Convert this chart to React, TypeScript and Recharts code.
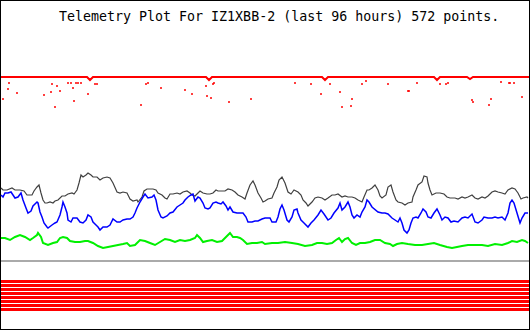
import { ComposedChart, Line, Scatter, XAxis, YAxis } from "recharts";

// values, [sample position, level]
const blackSeries: [number, number][] = [
  [1, 142], [3, 140], [7, 140], [12, 142], [15, 140], [20, 140], [24, 139], [27, 135], [32, 135], [34, 139],
  [37, 143], [39, 145], [41, 137], [43, 130], [45, 127], [47, 127], [50, 128], [53, 127], [55, 129], [58, 130],
  [62, 134], [65, 134], [68, 136], [72, 137], [74, 136], [77, 140], [79, 147], [81, 155], [83, 153], [86, 155],
  [88, 157], [91, 155], [93, 153], [97, 153], [100, 150], [103, 152], [107, 153], [110, 152], [113, 147], [117, 138],
  [120, 137], [123, 138], [127, 137], [129, 133], [130, 131], [133, 129], [137, 130], [138, 128], [142, 133], [144, 139],
  [147, 141], [150, 141], [153, 141], [156, 140], [158, 137], [162, 135], [165, 132], [167, 131], [170, 136], [173, 136],
  [177, 137], [180, 136], [183, 138], [187, 139], [190, 137], [192, 135], [195, 134], [198, 137], [200, 139], [203, 137],
  [207, 136], [210, 136], [213, 137], [216, 140], [218, 139], [222, 139], [225, 139], [228, 141], [232, 140], [235, 138],
  [238, 135], [242, 133], [245, 131], [247, 137], [250, 145], [253, 149], [255, 145], [258, 137], [261, 132], [263, 128],
  [265, 129], [268, 131], [272, 132], [274, 137], [277, 143], [279, 150], [282, 153], [285, 147], [288, 138], [291, 136],
  [294, 140], [298, 138], [301, 135], [303, 130], [306, 127], [308, 124], [312, 128], [315, 132], [318, 133], [322, 132],
  [325, 130], [328, 132], [332, 135], [335, 135], [338, 136], [342, 133], [345, 134], [348, 133], [352, 133], [355, 132],
  [358, 130], [362, 128], [364, 133], [367, 140], [369, 140], [372, 142], [375, 145], [378, 140], [380, 134], [382, 132],
  [386, 135], [388, 143], [391, 145], [393, 138], [396, 130], [398, 128], [402, 127], [405, 125], [408, 127], [412, 128],
  [413, 133], [416, 140], [418, 145], [422, 148], [424, 154], [427, 153], [428, 147], [430, 140], [432, 135], [436, 137],
  [440, 137], [444, 136], [447, 133], [450, 132], [455, 132], [458, 131], [462, 133], [465, 132], [468, 133], [472, 135],
  [475, 132], [478, 131], [482, 133], [485, 132], [488, 134], [492, 138], [495, 139], [498, 138], [502, 137], [505, 136],
  [508, 140], [512, 142], [515, 141], [518, 137], [521, 131], [523, 132], [527, 133], [528, 132],
];

const blueSeries: [number, number][] = [
  [1, 135], [3, 133], [5, 137], [8, 137], [11, 138], [13, 135], [15, 132], [18, 133], [21, 137], [23, 130],
  [26, 122], [28, 117], [31, 119], [33, 124], [37, 128], [38, 127], [40, 118], [42, 113], [44, 107], [47, 103],
  [48, 102], [52, 105], [55, 107], [57, 108], [60, 115], [62, 123], [63, 128], [65, 123], [67, 117], [68, 110],
  [71, 108], [73, 112], [77, 112], [80, 108], [83, 107], [86, 110], [88, 115], [91, 113], [93, 108], [96, 105],
  [98, 103], [100, 100], [103, 103], [107, 103], [110, 105], [113, 111], [117, 108], [120, 108], [123, 110], [127, 111],
  [130, 111], [133, 113], [135, 117], [137, 122], [140, 128], [143, 133], [145, 136], [148, 132], [152, 133], [154, 135],
  [156, 130], [158, 120], [161, 113], [163, 112], [167, 114], [170, 117], [173, 118], [177, 123], [180, 125], [183, 127],
  [185, 130], [188, 133], [191, 135], [193, 136], [195, 129], [198, 133], [200, 132], [203, 127], [205, 122], [208, 121],
  [210, 122], [213, 127], [216, 128], [218, 127], [221, 126], [223, 128], [226, 124], [228, 120], [230, 123], [233, 118],
  [237, 117], [240, 117], [243, 117], [246, 113], [248, 108], [252, 108], [255, 109], [258, 109], [262, 111], [265, 112],
  [270, 112], [272, 108], [276, 108], [278, 113], [280, 121], [282, 125], [284, 120], [287, 110], [289, 108], [292, 113],
  [294, 120], [297, 121], [298, 117], [301, 110], [304, 107], [308, 103], [311, 107], [314, 110], [318, 115], [321, 120],
  [324, 116], [328, 110], [331, 112], [334, 117], [338, 122], [340, 127], [342, 120], [345, 123], [348, 128], [350, 123],
  [352, 115], [354, 112], [357, 115], [360, 113], [362, 118], [365, 123], [367, 130], [369, 128], [372, 123], [378, 118],
  [382, 117], [385, 117], [388, 116], [392, 112], [395, 110], [398, 108], [400, 112], [402, 107], [404, 100], [407, 97],
  [409, 100], [411, 107], [413, 112], [416, 113], [418, 112], [421, 117], [423, 121], [426, 118], [428, 113], [431, 112],
  [434, 117], [437, 121], [440, 115], [442, 110], [445, 113], [448, 112], [451, 108], [454, 109], [458, 108], [462, 112],
  [465, 113], [468, 112], [472, 116], [475, 108], [478, 107], [482, 110], [484, 113], [488, 112], [492, 112], [495, 113],
  [498, 112], [502, 113], [505, 110], [508, 117], [510, 127], [512, 130], [514, 127], [517, 117], [520, 107], [522, 112],
  [525, 117], [528, 117],
];

const greenSeries: [number, number][] = [
  [1, 92], [5, 92], [10, 90], [15, 93], [20, 95], [25, 93], [30, 90], [33, 92], [37, 95], [38, 97],
  [41, 93], [43, 87], [48, 85], [53, 87], [57, 88], [60, 92], [63, 93], [67, 92], [70, 89], [75, 88],
  [80, 88], [85, 89], [88, 89], [93, 87], [98, 84], [103, 82], [108, 83], [113, 84], [118, 85], [123, 86],
  [127, 87], [130, 84], [135, 85], [140, 90], [145, 89], [150, 87], [155, 85], [160, 88], [165, 91], [170, 90],
  [175, 88], [180, 90], [185, 89], [190, 90], [195, 92], [197, 95], [200, 92], [203, 88], [207, 89], [212, 90],
  [217, 88], [222, 89], [225, 92], [228, 95], [230, 97], [233, 93], [237, 93], [240, 92], [243, 90], [247, 86],
  [252, 87], [257, 87], [262, 88], [265, 86], [272, 87], [278, 87], [285, 88], [292, 87], [298, 86], [305, 84],
  [312, 85], [317, 87], [322, 87], [327, 86], [332, 87], [336, 90], [339, 92], [342, 88], [345, 91], [348, 92],
  [352, 87], [356, 85], [360, 87], [365, 87], [370, 88], [375, 90], [380, 90], [385, 87], [390, 86], [393, 84],
  [397, 86], [402, 87], [408, 86], [415, 85], [422, 85], [428, 86], [434, 87], [440, 85], [447, 83], [452, 82],
  [457, 83], [462, 84], [468, 85], [475, 85], [482, 85], [488, 84], [495, 86], [502, 85], [508, 87], [512, 89],
  [517, 88], [522, 90], [525, 89], [528, 87],
];

const redSeries: [number, number][] = [
  [1, 253], [87, 253], [90, 250], [93, 253], [206, 253], [209, 250], [212, 253], [322, 253], [325, 250],
  [328, 253], [434, 253], [437, 250], [440, 253], [467, 253], [470, 251], [473, 253], [529, 253],
];

const redDrops: [number, number][] = [
  [3, 231], [9, 247], [8, 241], [17, 237], [44, 235], [52, 246], [51, 238], [55, 223], [57, 244], [60, 239],
  [68, 247], [71, 247], [73, 242], [74, 229], [76, 247], [78, 247], [81, 247], [88, 236], [95, 246], [97, 246],
  [141, 225], [146, 246], [148, 247], [161, 242], [185, 240], [192, 236], [206, 244], [207, 234], [211, 232], [213, 246],
  [214, 247], [229, 228], [251, 231], [295, 247], [311, 246], [321, 236], [330, 246], [340, 238], [342, 223], [351, 224],
  [352, 231], [362, 246], [366, 249], [388, 246], [408, 239], [409, 239], [417, 247], [440, 246], [446, 246], [448, 247],
  [472, 230], [473, 228], [489, 225], [491, 231], [501, 248], [509, 247], [510, 247], [514, 247], [522, 233],
];

const separatorLevel = 69;
const bitLevels = [48.5, 44.5, 40.5, 36.5, 32.5, 28.5, 24.5, 20.5];

const title = "Telemetry Plot For IZ1XBB-2 (last 96 hours) 572 points.";

const toPts = (arr: [number, number][]) => arr.map(([x, v]) => ({ x, v }));
const flat = (v: number) => [{ x: 1, v }, { x: 529, v }];

const Dot = (props: any) => (
  <rect x={props.cx - 0.75} y={props.cy - 1} width={1.5} height={2} fill="#ff0000" />
);

// shared props for the plain trace lines
const trace = {
  dataKey: "v",
  dot: false,
  activeDot: false,
  legendType: "none" as const,
  isAnimationActive: false,
};

export default function App() {
  return (
    <div
      style={{
        position: "absolute",
        left: 0,
        top: 0,
        width: 530,
        height: 330,
        boxSizing: "border-box",
        border: "1px solid #000",
        background: "#fff",
      }}
    >
      <div
        style={{
          position: "absolute",
          left: 58,
          top: 8,
          fontFamily: "'DejaVu Sans Mono', monospace",
          fontSize: 13.3,
          lineHeight: "16px",
          whiteSpace: "pre",
          color: "#000",
        }}
      >
        {title}
      </div>
      <div style={{ position: "absolute", left: -1, top: -1 }}>
        <ComposedChart width={530} height={330} margin={{ top: 0, right: 0, bottom: 0, left: 0 }}>
          <XAxis type="number" dataKey="x" domain={[0, 530]} hide allowDataOverflow />
          <YAxis type="number" dataKey="v" domain={[0, 330]} hide allowDataOverflow />
          {bitLevels.map((lv) => (
            <Line key={lv} {...trace} data={flat(lv)} stroke="#ff0000" strokeWidth={3} />
          ))}
          <Line {...trace} data={flat(separatorLevel)} stroke="#aaaaaa" strokeWidth={2} />
          <Line {...trace} data={toPts(greenSeries)} stroke="#00f000" strokeWidth={2} />
          <Line {...trace} data={toPts(blackSeries)} stroke="#404040" strokeWidth={1.2} />
          <Line {...trace} data={toPts(blueSeries)} stroke="#0000ff" strokeWidth={1.5} />
          <Line {...trace} data={toPts(redSeries)} stroke="#ff0000" strokeWidth={2} />
          <Scatter
            data={toPts(redDrops)}
            dataKey="v"
            fill="#ff0000"
            shape={Dot}
            isAnimationActive={false}
          />
        </ComposedChart>
      </div>
    </div>
  );
}
